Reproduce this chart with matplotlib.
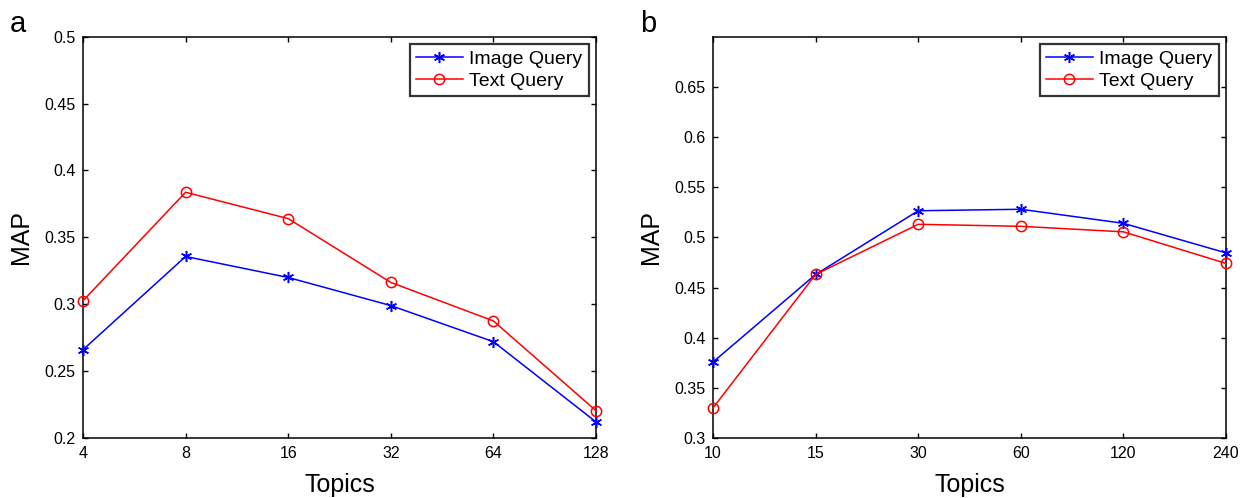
import matplotlib
matplotlib.use("Agg")
import matplotlib.pyplot as plt

plt.rcParams['font.family'] = ['Liberation Sans', 'DejaVu Sans']

topics_a = ["4", "8", "16", "32", "64", "128"]
image_a = [0.266, 0.3357, 0.320, 0.299, 0.272, 0.212]
text_a = [0.3026, 0.3837, 0.364, 0.3163, 0.2875, 0.2204]

topics_b = ["10", "15", "30", "60", "120", "240"]
image_b = [0.3757, 0.463, 0.5265, 0.528, 0.514, 0.4845]
text_b = [0.330, 0.463, 0.513, 0.511, 0.5055, 0.474]

W, H = 1240, 498
fig = plt.figure(figsize=(W / 100, H / 100), dpi=100)
ax_bottom = (H - 438) / H
ax_height = 401.3 / H
ax1 = fig.add_axes([83 / W, ax_bottom, 513 / W, ax_height])
ax2 = fig.add_axes([713 / W, ax_bottom, 513 / W, ax_height])

STAR = (6, 2, 0)

def style(ax, labels, ylim, yticks):
    x = list(range(len(labels)))
    ax.set_xlim(0, len(labels) - 1)
    ax.set_xticks(x)
    ax.set_xticklabels(labels)
    ax.set_ylim(*ylim)
    ax.set_yticks(yticks)
    ax.set_yticklabels([f"{t:g}" for t in yticks])
    ax.tick_params(direction='in', top=True, right=True, length=3.6, width=1,
                   labelsize=11.5)
    ax.tick_params(axis='y', pad=5.3)
    ax.tick_params(axis='x', pad=5.8)
    for s in ax.spines.values():
        s.set_linewidth(1.1)
    ax.set_xlabel("Topics", fontsize=18)
    ax.set_ylabel("MAP", fontsize=18)
    ax.xaxis.set_label_coords(0.5, -0.088)
    ax.yaxis.set_label_coords(-0.0975, 0.5)

def plot(ax, labels, img, txt):
    x = list(range(len(labels)))
    ax.plot(x, img, color='#0000ff', marker=STAR, markersize=8, markeredgewidth=1.1,
            linewidth=1.1, label='Image Query', clip_on=False, zorder=3)
    ax.plot(x, txt, color='#ff0000', marker='o', markersize=7.4, markerfacecolor='none',
            markeredgewidth=1.1, linewidth=1.1, label='Text Query', clip_on=False, zorder=3)
    leg = ax.legend(loc='upper right', fontsize=14, frameon=True, fancybox=False,
                    borderpad=0.31, handlelength=2.4, handletextpad=0.35,
                    labelspacing=0.24, borderaxespad=0.38)
    leg.get_frame().set_edgecolor('black')
    leg.get_frame().set_linewidth(1.6)

plot(ax1, topics_a, image_a, text_a)
style(ax1, topics_a, (0.2, 0.5), [0.2, 0.25, 0.3, 0.35, 0.4, 0.45, 0.5])
plot(ax2, topics_b, image_b, text_b)
style(ax2, topics_b, (0.3, 0.7), [0.3, 0.35, 0.4, 0.45, 0.5, 0.55, 0.6, 0.65])

fig.text(10 / W, 1 - 32 / H, "a", fontsize=21, va='baseline', ha='left')
fig.text(640 / W, 1 - 32 / H, "b", fontsize=21, va='baseline', ha='left')

fig.savefig("out.png", dpi=100)
